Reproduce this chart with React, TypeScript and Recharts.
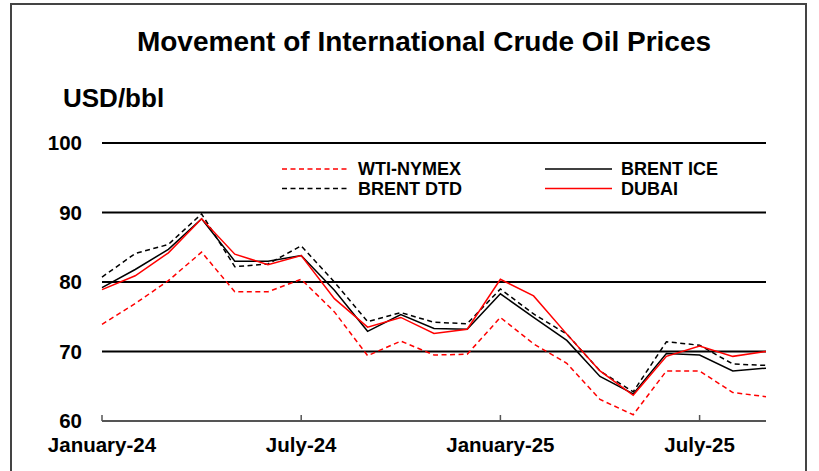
import React from "react";
import { LineChart, Line, XAxis, YAxis, ReferenceLine, Legend } from "recharts";

const months = [
  "January-24", "February-24", "March-24", "April-24", "May-24", "June-24",
  "July-24", "August-24", "September-24", "October-24", "November-24", "December-24",
  "January-25", "February-25", "March-25", "April-25", "May-25", "June-25",
  "July-25", "August-25", "September-25",
];
const wtiNymex = [73.9, 76.9, 80.2, 84.3, 78.6, 78.6, 80.4, 75.7, 69.4, 71.5, 69.5, 69.6, 74.9, 71.1, 68.3, 63.1, 60.9, 67.2, 67.2, 64.1, 63.5];
const brentIce = [79.2, 81.8, 84.7, 89.1, 83.0, 83.0, 83.8, 78.8, 72.9, 75.3, 73.3, 73.2, 78.3, 74.9, 71.6, 66.4, 63.9, 69.7, 69.5, 67.2, 67.6];
const brentDtd = [80.7, 84.1, 85.4, 89.8, 82.2, 82.6, 85.2, 80.0, 74.3, 75.6, 74.2, 74.0, 79.0, 75.4, 72.5, 67.2, 64.2, 71.4, 70.9, 68.2, 68.0];
const dubai = [78.9, 80.9, 84.2, 89.1, 84.0, 82.5, 83.8, 77.6, 73.5, 74.9, 72.6, 73.2, 80.4, 78.0, 72.5, 67.2, 63.7, 69.3, 70.8, 69.3, 70.0];

const xTicks = ["January-24", "July-24", "January-25", "July-25"];
const yTicks = [60, 70, 80, 90, 100];
const gridValues = [70, 80, 90, 100];

const title = "Movement of International Crude Oil Prices";
const unitLabel = "USD/bbl";

const data = months.map((m, i) => ({
  month: m,
  wti: wtiNymex[i],
  ice: brentIce[i],
  dtd: brentDtd[i],
  dubai: dubai[i],
}));

const FONT = "'Liberation Sans', Arial, Helvetica, sans-serif";

const legendItems = [
  { name: "WTI-NYMEX", color: "#ff0000", dash: "5 3.5", col: 0, row: 0 },
  { name: "BRENT ICE", color: "#000000", dash: undefined, col: 1, row: 0 },
  { name: "BRENT DTD", color: "#000000", dash: "5 3.5", col: 0, row: 1 },
  { name: "DUBAI", color: "#ff0000", dash: undefined, col: 1, row: 1 },
];

const LegendContent = () => {
  const colX = [282, 545];
  const rowY = [19, 38.5];
  return (
    <svg width={819} height={60} style={{ display: "block" }}>
      {legendItems.map((it) => {
        const x = colX[it.col];
        const y = rowY[it.row];
        return (
          <g key={it.name}>
            <line x1={x} x2={x + 67} y1={y} y2={y} stroke={it.color} strokeWidth={1.5} strokeDasharray={it.dash} />
            <text x={x + 76} y={y + 6} fontSize={18} fontWeight="bold" fontFamily={FONT} fill="#000">
              {it.name}
            </text>
          </g>
        );
      })}
    </svg>
  );
};

const XTick = (props: any) => {
  const { x, y, payload } = props;
  return (
    <g>
      <line x1={x} x2={x} y1={y - 6} y2={y} stroke="#555" strokeWidth={1.5} />
      <text x={x} y={y + 31} textAnchor="middle" fontSize={20.5} fontWeight="bold" fontFamily={FONT} fill="#000">
        {payload.value}
      </text>
    </g>
  );
};

export default function App() {
  return (
    <div style={{ position: "absolute", left: 0, top: 0, width: 819, height: 471, overflow: "hidden", background: "#fff" }}>
      <div style={{ position: "absolute", left: 10, top: 3, width: 797, height: 490, border: "2px solid #444", boxSizing: "border-box" }} />
      <svg width={819} height={130} style={{ position: "absolute", left: 0, top: 0 }}>
        <text x={424} y={51} textAnchor="middle" fontSize={28} fontWeight="bold" fontFamily={FONT} fill="#000">
          {title}
        </text>
        <text x={63} y={107} fontSize={26} fontWeight="bold" fontFamily={FONT} fill="#000">
          {unitLabel}
        </text>
      </svg>
      <div style={{ position: "absolute", left: 0, top: 0 }}>
        <LineChart width={819} height={471} data={data} margin={{ top: 143, right: 53, bottom: 10, left: 0 }}>
          <XAxis
            dataKey="month"
            ticks={xTicks}
            interval={0}
            height={40}
            tickLine={false}
            tickSize={0}
            tickMargin={0}
            axisLine={{ stroke: "#555", strokeWidth: 2 }}
            tick={<XTick />}
          />
          <YAxis
            domain={[60, 100]}
            ticks={yTicks}
            width={102}
            axisLine={false}
            tickLine={false}
            tickSize={0}
            tickMargin={20}
            tick={{ fontSize: 20.5, fontWeight: "bold", fill: "#000", fontFamily: FONT }}
          />
          {gridValues.map((v) => (
            <ReferenceLine key={v} y={v} stroke="#000" strokeWidth={2} />
          ))}
          <Legend
            layout="vertical"
            align="center"
            verticalAlign="middle"
            wrapperStyle={{ left: 0, top: 150, width: 819 }}
            content={<LegendContent />}
          />
          <Line type="linear" dataKey="wti" name="WTI-NYMEX" stroke="#ff0000" strokeWidth={1.5} strokeDasharray="5 3.5" dot={false} isAnimationActive={false} />
          <Line type="linear" dataKey="dtd" name="BRENT DTD" stroke="#000000" strokeWidth={1.5} strokeDasharray="5 3.5" dot={false} isAnimationActive={false} />
          <Line type="linear" dataKey="ice" name="BRENT ICE" stroke="#000000" strokeWidth={1.5} dot={false} isAnimationActive={false} />
          <Line type="linear" dataKey="dubai" name="DUBAI" stroke="#ff0000" strokeWidth={1.5} dot={false} isAnimationActive={false} />
        </LineChart>
      </div>
    </div>
  );
}
